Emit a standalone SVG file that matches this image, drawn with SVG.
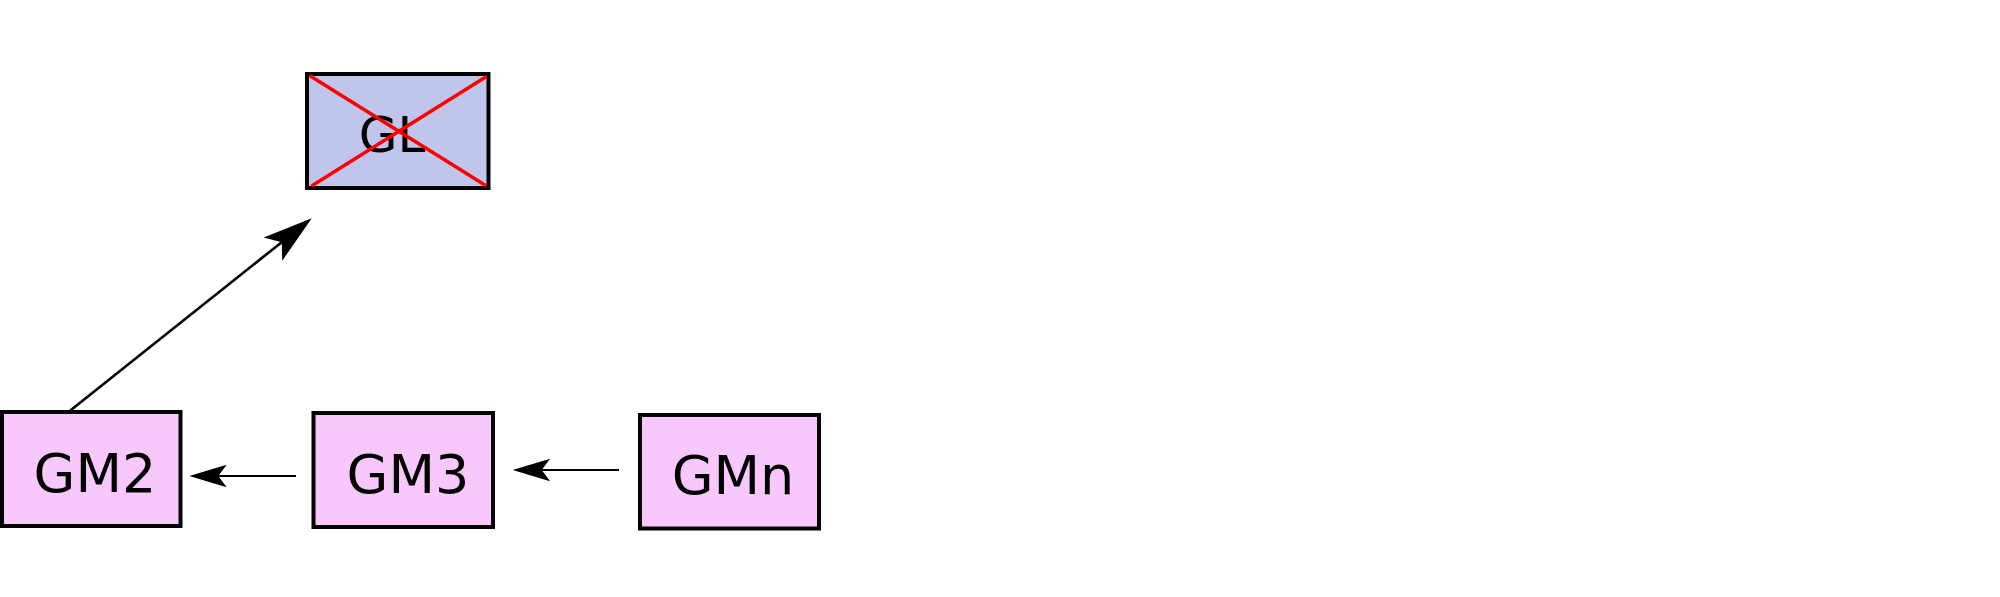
<svg xmlns="http://www.w3.org/2000/svg" width="2000" height="597" viewBox="0 0 2000 597">
<style>
.box{stroke:#000;stroke-width:4}
.gm{fill:#f8c8fd}
.gl{fill:#c0c6eb}
.lbl{font-family:"DejaVu Sans",sans-serif;font-size:54px;text-anchor:middle;fill:#000}
.cross{stroke:#ff0000;stroke-width:3.5;fill:none}
.edge{stroke:#000;fill:none}
</style>
<defs>
<marker id="arr" markerUnits="strokeWidth" markerWidth="20" markerHeight="12" viewBox="-19 -6 20 12" refX="-14.5" refY="0" orient="auto" overflow="visible">
<path d="M0,0 L-18.7,-5.6 L-14.5,0 L-18.7,5.6 Z" fill="#000"/>
</marker>
</defs>
<rect width="2000" height="597" fill="#fff"/>
<g id="GL">
<rect class="box gl" x="307" y="74" width="181.5" height="114"/>
<text class="lbl" x="392" y="151.5" style="font-size:50px">GL</text>
<line class="cross" x1="309.5" y1="75.5" x2="486.5" y2="186"/>
<line class="cross" x1="486.5" y1="76.5" x2="311.5" y2="186"/>
</g>
<g id="GM2">
<rect class="box gm" x="2" y="412" width="178.5" height="114"/>
<text class="lbl" x="95" y="492">GM2</text>
</g>
<g id="GM3">
<rect class="box gm" x="313.5" y="413" width="179.5" height="114"/>
<text class="lbl" x="408" y="492.5">GM3</text>
</g>
<g id="GMn">
<rect class="box gm" x="640" y="415" width="179" height="113.5"/>
<text class="lbl" x="733" y="494">GMn</text>
</g>
<g id="connectors">
<path class="edge" d="M296,476 L218.3,476" stroke-width="2" marker-end="url(#arr)"/>
<path class="edge" d="M619,470 L541.7,470" stroke-width="2" marker-end="url(#arr)"/>
<path class="edge" d="M70,410.7 L281.7,242.2" stroke-width="2.65" marker-end="url(#arr)"/>
</g>
</svg>
